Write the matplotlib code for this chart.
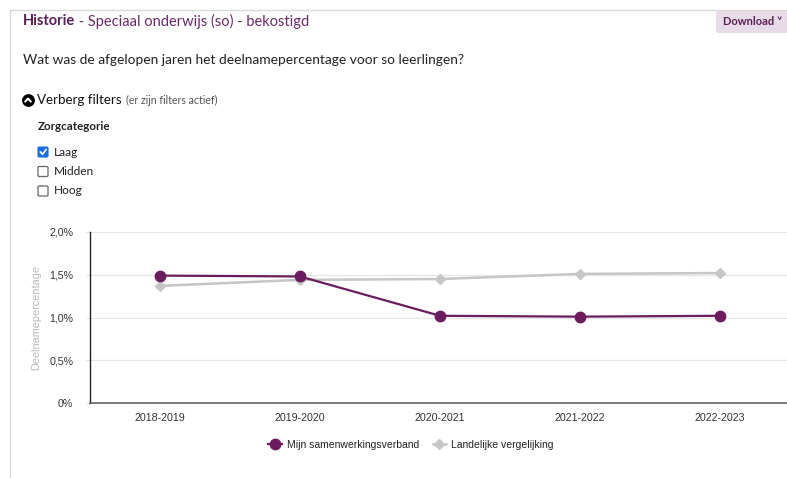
import matplotlib
matplotlib.use("Agg")
import matplotlib.pyplot as plt
from matplotlib.patches import FancyBboxPatch
from matplotlib.lines import Line2D

# ---- data ----
years = ["2018-2019", "2019-2020", "2020-2021", "2021-2022", "2022-2023"]
mijn = [1.49, 1.48, 1.02, 1.01, 1.02]
landelijk = [1.37, 1.44, 1.45, 1.51, 1.52]
y_ticks = [0, 0.5, 1.0, 1.5, 2.0]
y_tick_labels = ["0%", "0,5%", "1,0%", "1,5%", "2,0%"]
filters = ["Laag", "Midden", "Hoog"]
checked = [True, False, False]

W, H = 787, 478
fig = plt.figure(figsize=(W / 100, H / 100), dpi=100)
fig.patch.set_facecolor("white")

def fx(x):
    return x / W

def fy(y):
    return 1 - y / H

PURPLE = "#6b1c5e"
GRAY = "#c6c6c6"
PAGEFONT = ["Lato", "DejaVu Sans"]
CHARTFONT = ["Liberation Sans", "DejaVu Sans"]

# page frame
fig.add_artist(Line2D([fx(10), fx(10)], [fy(10), fy(478)], color="#d9d9d9", lw=1))
fig.add_artist(Line2D([fx(10), fx(787)], [fy(10), fy(10)], color="#d9d9d9", lw=1))

# title
t1 = fig.text(fx(23), fy(21), "Historie", fontsize=10.5, fontweight="bold",
              color="#5a1f55", va="center", ha="left", family=PAGEFONT)
fig.canvas.draw()
bb = t1.get_window_extent()
fig.text(bb.x1 / W, fy(21), " - Speciaal onderwijs (so) - bekostigd", fontsize=10.5,
         color="#6b2a66", va="center", ha="left", family=PAGEFONT)

# download button
fig.add_artist(FancyBboxPatch((fx(716), fy(33)), fx(80), 22 / H,
                              boxstyle="round,pad=0,rounding_size=0.004",
                              facecolor="#e7dbe8", edgecolor="none"))
fig.text(fx(723), fy(21.5), "Download \u02c5", fontsize=8, fontweight="bold",
         color="#5a1f55", va="center", ha="left", family=PAGEFONT)

# question
fig.text(fx(23), fy(60), "Wat was de afgelopen jaren het deelnamepercentage voor so leerlingen?",
         fontsize=9.9, color="#222222", va="center", ha="left", family=PAGEFONT)

# Verberg filters
fig.add_artist(Line2D([fx(28)], [fy(100)], marker="o", markersize=8.2,
                      markerfacecolor="black", markeredgecolor="black", linestyle="none"))
fig.add_artist(Line2D([fx(25.2), fx(28), fx(30.8)], [fy(101.6), fy(98.6), fy(101.6)],
                      color="white", lw=1.5, solid_capstyle="round", solid_joinstyle="round"))
t2 = fig.text(fx(37), fy(100), "Verberg filters", fontsize=9.6, color="#111111",
              va="center", ha="left", family=PAGEFONT)
fig.canvas.draw()
bb2 = t2.get_window_extent()
fig.text(bb2.x1 / W + 0.005, fy(100.5), "(er zijn filters actief)", fontsize=7.6,
         color="#555555", va="center", ha="left", family=PAGEFONT)

# Zorgcategorie
fig.text(fx(38), fy(127), "Zorgcategorie", fontsize=8.4, fontweight="bold",
         color="#222222", va="center", ha="left", family=PAGEFONT)
for i, (lab, chk) in enumerate(zip(filters, checked)):
    yc = 152 + i * 19.5
    if chk:
        fig.add_artist(FancyBboxPatch((fx(38), fy(yc + 5)), 10 / W, 10 / H,
                                      boxstyle="round,pad=0,rounding_size=0.002",
                                      facecolor="#1a6fe0", edgecolor="#1a6fe0", lw=0.8))
        fig.add_artist(Line2D([fx(40.5), fx(42.5), fx(46)], [fy(yc), fy(yc + 2.3), fy(yc - 2.3)],
                              color="white", lw=1.2))
    else:
        fig.add_artist(FancyBboxPatch((fx(38), fy(yc + 5)), 10 / W, 10 / H,
                                      boxstyle="round,pad=0,rounding_size=0.002",
                                      facecolor="white", edgecolor="#666666", lw=0.9))
    fig.text(fx(54), fy(yc), lab, fontsize=8.6, color="#222222",
             va="center", ha="left", family=PAGEFONT)

# ---- chart ----
ax = fig.add_axes([fx(90), fy(403), 700 / W, (403 - 232) / H])
x = list(range(len(years)))
ax.plot(x, landelijk, color=GRAY, lw=1.8, marker="D", markersize=5.5,
        markeredgecolor=GRAY, label="Landelijke vergelijking", zorder=3)
ax.plot(x, mijn, color=PURPLE, lw=1.6, marker="o", markersize=7.5,
        markeredgecolor=PURPLE, label="Mijn samenwerkingsverband", zorder=4)
ax.set_xlim(-0.5, len(years) - 0.5)
ax.set_ylim(0, 2.0)
ax.set_yticks(y_ticks)
ax.set_yticklabels(y_tick_labels, family=CHARTFONT, fontsize=7.7, color="#333333")
ax.set_xticks(x)
ax.set_xticklabels(years, family=CHARTFONT, fontsize=7.7, color="#333333")
ax.tick_params(axis="y", length=3, color="#e0e0e0", pad=9)
ax.tick_params(axis="x", length=0, pad=7)
ax.grid(axis="y", color="#e6e6e6", lw=0.9)
ax.set_axisbelow(True)
for s in ["top", "right"]:
    ax.spines[s].set_visible(False)
ax.spines["left"].set_color("#222222")
ax.spines["left"].set_linewidth(1.0)
ax.spines["bottom"].set_color("#666666")
ax.spines["bottom"].set_linewidth(1.2)
ax.set_ylabel("Deelnamepercentage", family=CHARTFONT, fontsize=7.8, color="#bbbbbb")
ax.yaxis.set_label_coords(-(90 - 41) / 700, 0.5)

handles, labels = ax.get_legend_handles_labels()
leg = fig.legend(handles[::-1], labels[::-1], loc="center", bbox_to_anchor=(fx(411), fy(445)),
                 ncol=2, frameon=False, prop={"family": CHARTFONT, "size": 7.5},
                 handlelength=1.3, handletextpad=0.5, columnspacing=1.3)
for t in leg.get_texts():
    t.set_color("#222222")

fig.savefig("out.png", dpi=100, facecolor="white")
